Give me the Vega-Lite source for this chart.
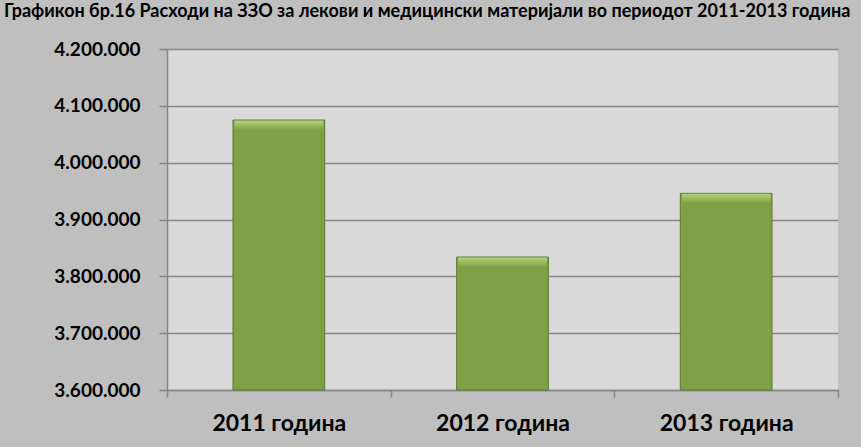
{
  "$schema": "https://vega.github.io/schema/vega-lite/v6.json",
  "width": 671,
  "height": 341,
  "autosize": {"type": "none"},
  "padding": {"left": 167, "top": 49, "right": 23, "bottom": 57},
  "background": "#bfbfbf",
  "title": {
    "text": "Графикон бр.16 Расходи на ЗЗО за лекови и медицински материјали во периодот 2011-2013 година",
    "anchor": "start",
    "frame": "group",
    "dx": -163,
    "dy": -5,
    "baseline": "alphabetic",
    "offset": 0,
    "fontSize": 18,
    "font": "Lato",
    "fontWeight": "bold",
    "color": "#000000"
  },
  "config": {
    "locale": {"number": {"decimal": ",", "thousands": ".", "grouping": [3], "currency": ["", ""]}},
    "view": {"fill": "#d9d9d9", "stroke": null},
    "font": "Lato"
  },
  "data": {
    "values": [
      {"year": "2011 година", "value": 4075000},
      {"year": "2012 година", "value": 3834000},
      {"year": "2013 година", "value": 3946000}
    ]
  },
  "encoding": {
    "x": {
      "field": "year",
      "type": "nominal",
      "sort": null,
      "scale": {"paddingInner": 0, "paddingOuter": 0},
      "axis": {
        "title": null,
        "labelAngle": 0,
        "tickBand": "extent",
        "tickSize": 7,
        "tickColor": "#868686",
        "tickWidth": 1.5,
        "domainColor": "#868686",
        "domainWidth": 1.5,
        "labelFontSize": 23,
        "labelFontWeight": "bold",
        "labelColor": "#000000",
        "labelPadding": 15,
        "grid": false
      }
    },
    "y": {
      "field": "value",
      "type": "quantitative",
      "scale": {"domain": [3600000, 4200000], "zero": false, "nice": false},
      "axis": {
        "title": null,
        "values": [3600000, 3700000, 3800000, 3900000, 4000000, 4100000, 4200000],
        "format": ",.0f",
        "grid": true,
        "gridColor": "#868686",
        "gridWidth": 1.5,
        "gridOpacity": 1,
        "tickSize": 8,
        "tickColor": "#868686",
        "tickWidth": 1.5,
        "domainColor": "#868686",
        "domainWidth": 1.5,
        "labelFontSize": 19,
        "labelFontWeight": "bold",
        "labelColor": "#000000",
        "labelPadding": 19
      }
    }
  },
  "layer": [
    {
      "mark": {"type": "bar", "width": {"band": 0.41}, "color": "#80a046", "stroke": "#5d7a2c", "strokeWidth": 1},
      "encoding": {"y2": {"datum": 3600000}}
    },
    {
      "mark": {
        "type": "tick",
        "orient": "horizontal",
        "thickness": 9,
        "size": 89,
        "yOffset": 5,
        "color": {
          "gradient": "linear",
          "x1": 0, "y1": 0, "x2": 0, "y2": 1,
          "stops": [
            {"offset": 0, "color": "#c8e495"},
            {"offset": 0.45, "color": "#abc96f"},
            {"offset": 1, "color": "#85a44b"}
          ]
        }
      }
    }
  ]
}
